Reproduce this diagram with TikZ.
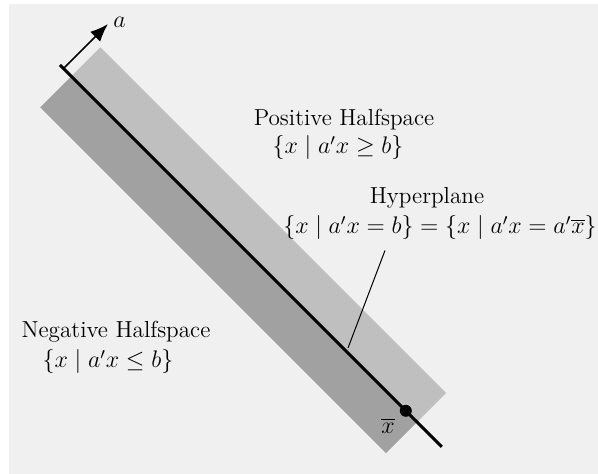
\documentclass[tikz,border=0pt]{standalone}
\usepackage{amsmath,amssymb}
\usetikzlibrary{calc,arrows.meta}

\definecolor{bgfill}{gray}{0.94}
\definecolor{posband}{gray}{0.75}
\definecolor{negband}{gray}{0.63}

\begin{document}
\begin{tikzpicture}[x=0.5pt, y=-0.5pt, thick,
  every node/.style={font=\fontsize{11.6pt}{14pt}\selectfont}]
  \useasboundingbox (0,0) rectangle (598,474);
  \fill[white] (0,0) rectangle (598,474);
  \fill[bgfill] (9,4) rectangle (598,474);

  % hyperplane and the two bands
  \coordinate (O) at (60, 65);
  \coordinate (E) at (441.8, 446.8);
  \coordinate (P1) at (71.3, 76.3);
  \coordinate (P2) at (100.3, 47.3);
  \coordinate (P3) at (446.1, 393.1);
  \coordinate (P4) at (417.1, 422.1);
  \coordinate (N1) at (40.2, 107.4);
  \coordinate (N2) at (386, 453.2);

  \fill[posband] (P1) -- (P2) -- (P3) -- (P4) -- cycle;
  \fill[negband] (P1) -- (N1) -- (N2) -- (P4) -- cycle;
  \draw[line width=1.5pt] (O) -- (E);

  % normal vector
  \coordinate (A0) at (63.5, 68.5);
  \coordinate (A1) at (108, 24);
  \draw[line width=0.8pt, -{Latex[length=9pt,width=7pt]}] (A0) -- (A1);
  \node[right] (a) at (106, 22) {$a$};

  % point on the plane
  \coordinate (X) at (405.8, 410.8);
  \fill (X) circle (3pt);
  \node (xbar) at (388, 426) {$\overline{x}$};

  % labels
  \node (Pos)    at (344, 120) {Positive Halfspace};
  \node (PosSet) at (338, 148) {$\{x \mid a'x \geq b\}$};
  \node (Hyp)    at (427, 198) {Hyperplane};
  \node (HypSet) at (440, 228) {$\{x \mid a'x = b\} = \{x \mid a'x = a'\overline{x}\}$};
  \node (Neg)    at (116, 332) {Negative Halfspace};
  \node (NegSet) at (108, 362) {$\{x \mid a'x \leq b\}$};

  \coordinate (L) at (348, 348);
  \coordinate (T) at ($(HypSet.south)+(-55,3)$);
  \draw[line width=0.5pt] (L) -- (T);
\end{tikzpicture}
\end{document}
